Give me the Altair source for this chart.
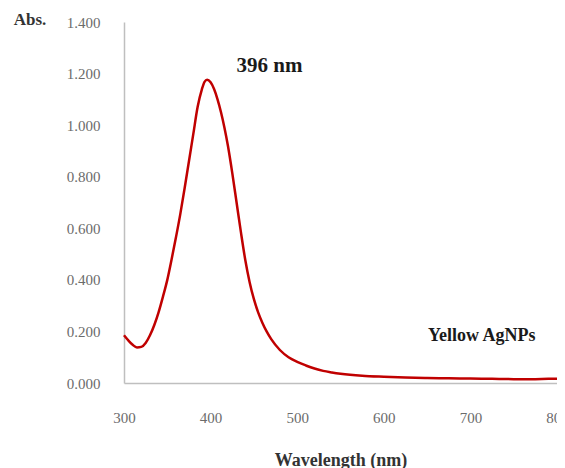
import altair as alt
import pandas as pd

wavelength = [300, 305, 310, 315, 320, 325, 330, 335, 340, 345, 350, 355, 360, 365, 370,
              375, 380, 385, 390, 393, 396, 400, 404, 408, 412, 416, 420, 425, 430, 435,
              440, 445, 450, 455, 460, 465, 470, 480, 490, 500, 510, 520, 530, 540, 550,
              575, 600, 625, 650, 675, 700, 725, 750, 775, 790, 800]
absorbance = [0.185, 0.165, 0.148, 0.138, 0.140, 0.155, 0.185, 0.225, 0.275, 0.335, 0.400,
              0.480, 0.565, 0.655, 0.755, 0.860, 0.965, 1.070, 1.140, 1.168, 1.176, 1.166,
              1.140, 1.100, 1.050, 0.990, 0.920, 0.815, 0.700, 0.585, 0.478, 0.392, 0.325,
              0.273, 0.232, 0.198, 0.170, 0.128, 0.100, 0.082, 0.068, 0.056, 0.047, 0.041,
              0.036, 0.028, 0.024, 0.021, 0.019, 0.018, 0.017, 0.016, 0.015, 0.015, 0.016,
              0.016]

x_ticks = [300, 400, 500, 600, 700, 800]
y_ticks = [0.0, 0.2, 0.4, 0.6, 0.8, 1.0, 1.2, 1.4]

ann_text = ["396 nm", "Yellow AgNPs"]
ann_x = [468, 713]
ann_y = [1.23, 0.183]
ann_size = [21, 18]

df = pd.DataFrame({"wl": wavelength, "abs": absorbance})
ann = pd.DataFrame({"t": ann_text, "x": ann_x, "y": ann_y, "s": ann_size})

serif = "Liberation Serif"

x_scale = alt.Scale(domain=[300, 800], nice=False, zero=False)
y_scale = alt.Scale(domain=[0, 1.4], nice=False)

line = alt.Chart(df).mark_line(color="#c00000", strokeWidth=2.5, interpolate="monotone").encode(
    x=alt.X("wl:Q", scale=x_scale,
            axis=alt.Axis(values=x_ticks, title="Wavelength (nm)", grid=False, ticks=False,
                          labelPadding=27, labelFont=serif, labelFontSize=15,
                          labelColor="#6b6b6b", domainColor="#bfbfbf", domainWidth=1.5,
                          titleFont=serif, titleFontSize=18, titleFontWeight="bold",
                          titleColor="#333333", titlePadding=26, labelFlush=False)),
    y=alt.Y("abs:Q", scale=y_scale,
            axis=alt.Axis(values=y_ticks, format=".3f", title=None, grid=False, ticks=False,
                          labelPadding=24, labelFont=serif, labelFontSize=15,
                          labelColor="#6b6b6b", domainColor="#bfbfbf", domainWidth=1.5)),
)

texts = alt.Chart(ann).mark_text(font=serif, fontWeight="bold", color="#1a1a1a").encode(
    x=alt.X("x:Q", scale=x_scale),
    y=alt.Y("y:Q", scale=y_scale),
    text="t:N",
    size=alt.Size("s:Q", scale=None, legend=None),
)

abs_label = alt.Chart(pd.DataFrame({"t": ["Abs."]})).mark_text(
    font=serif, fontSize=17, fontWeight="bold", color="#333333"
).encode(x=alt.value(-94), y=alt.value(-2), text="t:N")

chart = alt.layer(line, texts, abs_label).properties(
    width=433, height=361,
    background="white",
    autosize=alt.AutoSizeParams(type="none"),
    padding={"left": 116, "top": 14, "right": 0, "bottom": 85},
).configure_view(strokeWidth=0)

chart.save("out.html", embed_options={"renderer": "svg", "actions": False})
